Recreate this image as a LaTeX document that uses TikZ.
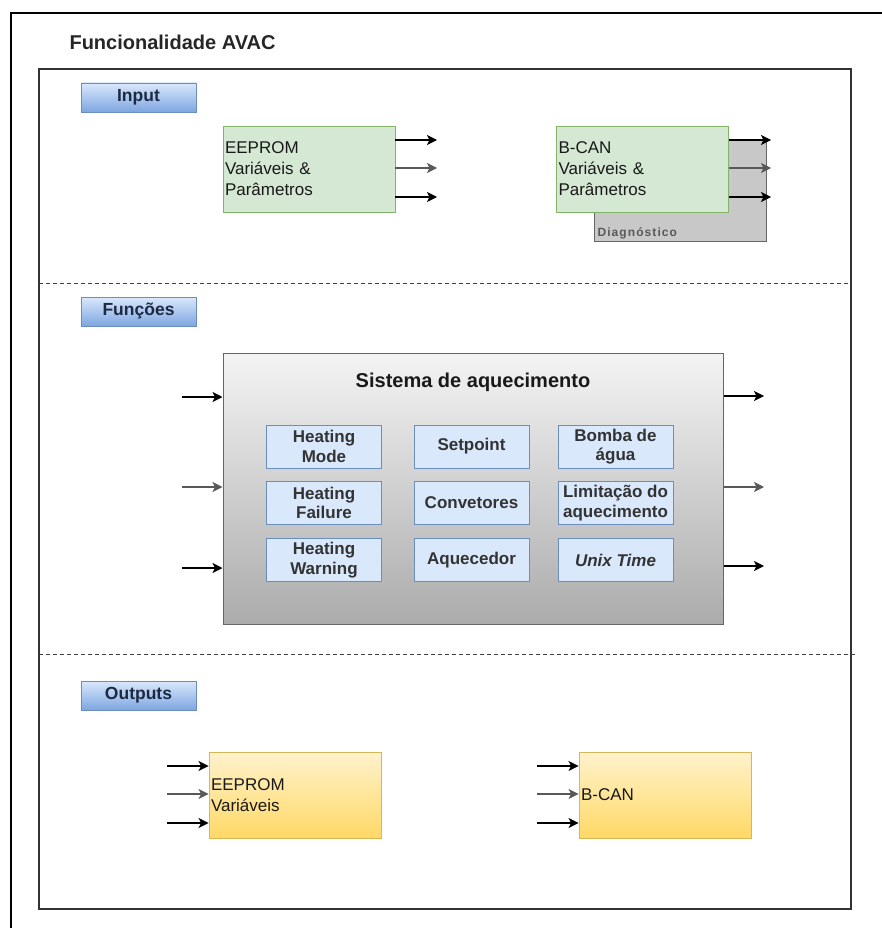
\documentclass[tikz,border=0pt]{standalone}
\usepackage{fontspec}
\setmainfont{Liberation Sans}
\usetikzlibrary{arrows.meta,calc}

\definecolor{lblborder}{HTML}{6C8EBF}
\definecolor{lbltop}{HTML}{DAE8FC}
\definecolor{lblbot}{HTML}{7EA6E0}
\definecolor{lbltext}{HTML}{1C2A44}
\definecolor{grnfill}{HTML}{D5E8D4}
\definecolor{grnborder}{HTML}{82B366}
\definecolor{ylwtop}{HTML}{FFF2CC}
\definecolor{ylwbot}{HTML}{FFD966}
\definecolor{ylwborder}{HTML}{D6B656}
\definecolor{systop}{HTML}{F4F4F4}
\definecolor{sysbot}{HTML}{ABABAB}
\definecolor{cellfill}{HTML}{DAE8FC}
\definecolor{diagfill}{HTML}{C8C8C8}

\tikzset{
  lbl/.style={draw=lblborder, top color=lbltop, bottom color=lblbot,
    minimum width=115pt, minimum height=29pt, inner sep=0pt, line width=0.9pt,
    font=\bfseries\fontsize{17.5}{20}\selectfont, text=lbltext},
  greenbox/.style={draw=grnborder, fill=grnfill, line width=0.9pt,
    minimum width=172pt, minimum height=86pt, text width=168pt, align=left,
    inner xsep=2pt, inner ysep=0pt,
    font=\fontsize{17}{21}\selectfont, text=black!90},
  yellowbox/.style={draw=ylwborder, top color=ylwtop, bottom color=ylwbot,
    line width=0.9pt, minimum width=172pt, minimum height=86pt,
    text width=168pt, align=left, inner xsep=2pt, inner ysep=0pt,
    font=\fontsize{17}{21}\selectfont, text=black!90},
  cell/.style={draw=lblborder, fill=cellfill, line width=0.9pt,
    minimum width=115pt, minimum height=43pt, inner sep=0pt, align=center,
    font=\bfseries\fontsize{17}{19.5}\selectfont, text=black!80},
  arr/.style={line width=1.4pt, -{Stealth[length=10pt,width=10pt,inset=2.5pt]}},
  arrgray/.style={arr, draw=black!65},
  sep/.style={dashed, dash pattern=on 4pt off 3pt, draw=black!75, line width=0.9pt}
}

\begin{document}
\begin{tikzpicture}[x=1pt,y=-1pt]
\useasboundingbox (0,0) rectangle (882,928);

% outer frame (top and left edges lie inside the page)
\draw[line width=1.5pt] (11,928) -- (11,13) -- (882,13);
\node[anchor=west, font=\bfseries\fontsize{20}{24}\selectfont, text=black!85]
  (title) at (66,42) {Funcionalidade AVAC};

% main panel
\draw[line width=1.2pt, draw=black!80] (39,69) rectangle (851,909);
\coordinate (s1l) at (39,283);  \coordinate (s1r) at (851,283);
\coordinate (s2l) at (39,654);  \coordinate (s2r) at (856,654);
\draw[sep] (s1l) -- (s1r);
\draw[sep] (s2l) -- (s2r);

% section labels
\node[lbl] (lin)  at (138.5,97.5)  {Input};
\node[lbl] (lfn)  at (138.5,311.5) {Funções};
\node[lbl] (lout) at (138.5,695.5) {Outputs};

% ---- Input ----
\node[greenbox] (g1) at (309,169) {EEPROM\\Variáveis \&\\Parâmetros};
\coordinate (g1a) at (437,140);
\coordinate (g1b) at (437,168);
\coordinate (g1c) at (437,197);
\draw[arr]     (g1.east |- g1a) -- (g1a);
\draw[arrgray] (g1.east |- g1b) -- (g1b);
\draw[arr]     (g1.east |- g1c) -- (g1c);

\node[draw=black!60, fill=diagfill, line width=0.9pt, minimum width=172pt,
  minimum height=102pt, inner sep=0pt] (diag) at (680,190) {};
\node[anchor=west, font=\bfseries\fontsize{12}{14}\selectfont\addfontfeatures{LetterSpace=9},
  text=black!65] (diagt) at (594,233) {Diagnóstico};
\node[greenbox] (g2) at (642.5,169) {B-CAN\\Variáveis \&\\Parâmetros};
\coordinate (g2a) at (771,140);
\coordinate (g2b) at (771,168);
\coordinate (g2c) at (771,197);
\draw[arr]     (g2.east |- g2a) -- (g2a);
\draw[arrgray] (g2.east |- g2b) -- (g2b);
\draw[arr]     (g2.east |- g2c) -- (g2c);

% ---- Funções ----
\node[draw=black!60, top color=systop, bottom color=sysbot, line width=1pt,
  minimum width=500pt, minimum height=271pt, inner sep=0pt] (sys) at (473,488.5) {};
\node[font=\bfseries\fontsize{20}{23}\selectfont, text=black!90] (syst) at (473,382)
  {Sistema de aquecimento};

\node[cell] (c11) at (324,446.5)   {Heating\\Mode};
\node[cell] (c12) at (471.5,446.5) {Setpoint};
\node[cell] (c13) at (615.5,446.5) {Bomba de\\água};
\node[cell] (c21) at (324,503)     {Heating\\Failure};
\node[cell] (c22) at (471.5,503)   {Convetores};
\node[cell] (c23) at (615.5,503)   {Limitação do\\aquecimento};
\node[cell] (c31) at (324,560)     {Heating\\Warning};
\node[cell] (c32) at (471.5,560)   {Aquecedor};
\node[cell] (c33) at (615.5,560)   {\itshape Unix Time};

\coordinate (si1) at (182,397);
\coordinate (si2) at (182,487);
\coordinate (si3) at (182,568);
\draw[arr]     (si1) -- (sys.west |- si1);
\draw[arrgray] (si2) -- (sys.west |- si2);
\draw[arr]     (si3) -- (sys.west |- si3);
\coordinate (so1) at (764,396);
\coordinate (so2) at (764,487);
\coordinate (so3) at (764,566);
\draw[arr]     (sys.east |- so1) -- (so1);
\draw[arrgray] (sys.east |- so2) -- (so2);
\draw[arr]     (sys.east |- so3) -- (so3);

% ---- Outputs ----
\node[yellowbox] (y1) at (295,795) {EEPROM\\Variáveis};
\coordinate (y1a) at (167,766);
\coordinate (y1b) at (167,794);
\coordinate (y1c) at (167,823);
\draw[arr]     (y1a) -- (y1.west |- y1a);
\draw[arrgray] (y1b) -- (y1.west |- y1b);
\draw[arr]     (y1c) -- (y1.west |- y1c);

\node[yellowbox] (y2) at (665,795) {B-CAN};
\coordinate (y2a) at (537,766);
\coordinate (y2b) at (537,794);
\coordinate (y2c) at (537,823);
\draw[arr]     (y2a) -- (y2.west |- y2a);
\draw[arrgray] (y2b) -- (y2.west |- y2b);
\draw[arr]     (y2c) -- (y2.west |- y2c);
\end{tikzpicture}
\end{document}
